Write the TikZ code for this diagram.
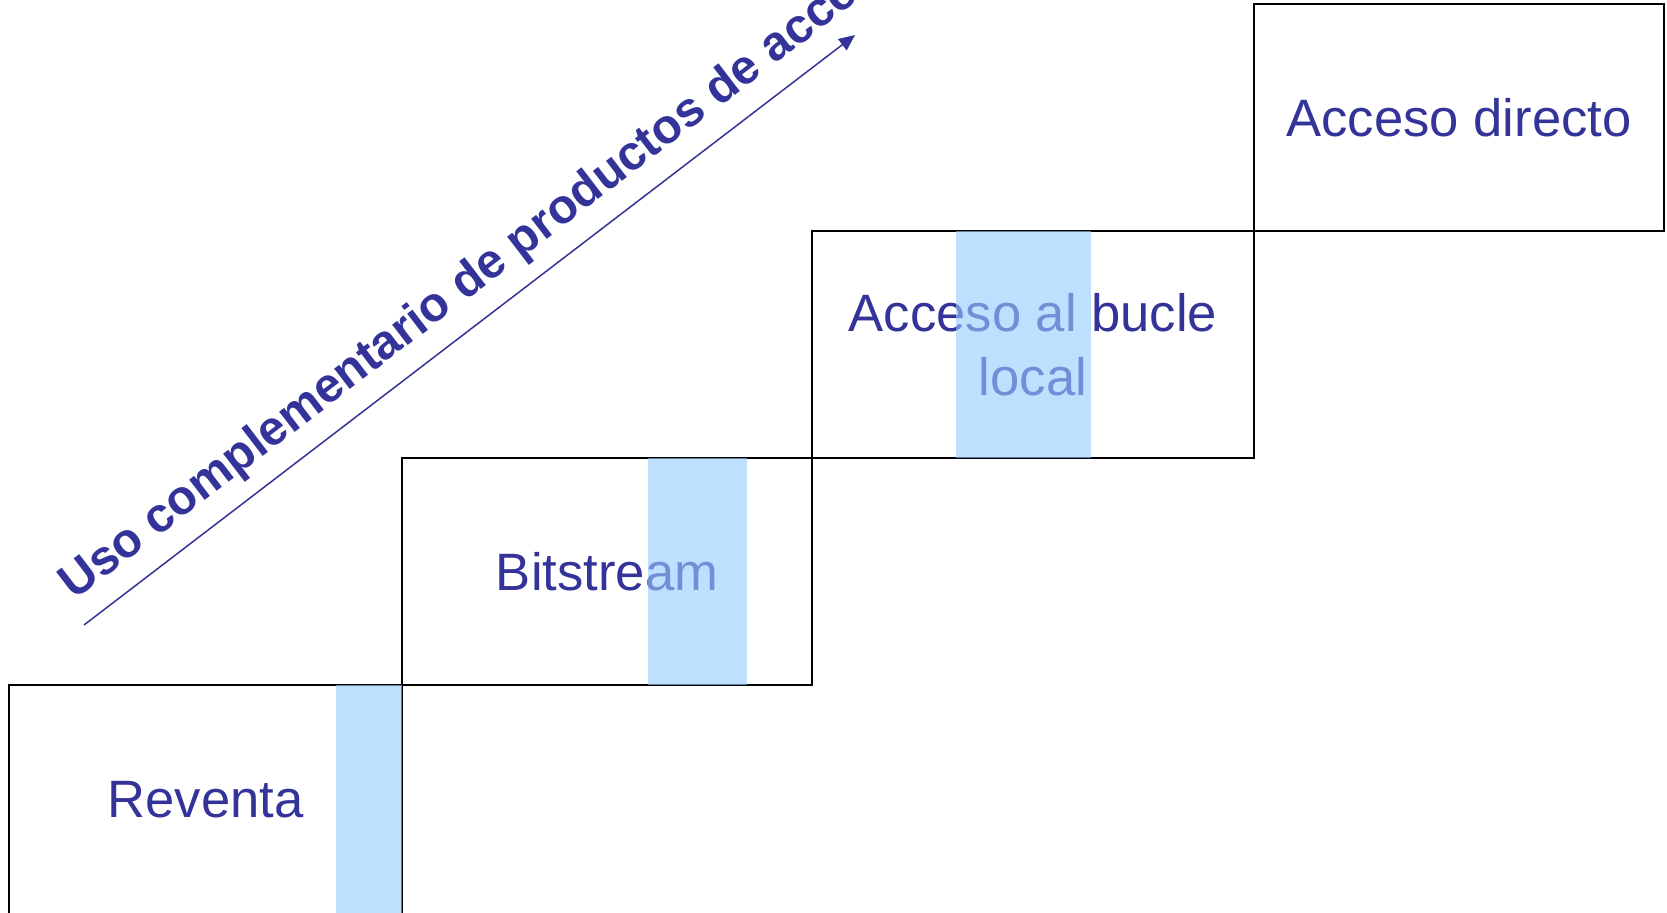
\documentclass[tikz,border=0pt]{standalone}
\usepackage{fontspec}
\setmainfont{Liberation Sans}
\usetikzlibrary{arrows.meta}
\definecolor{txtblue}{HTML}{333399}
\definecolor{hiblue}{RGB}{151,203,255}
\begin{document}
\begin{tikzpicture}[x=0.5pt,y=-0.5pt,
  stepbox/.style={draw=black, line width=0.75pt, inner sep=0pt, text=txtblue,
    font=\fontsize{26.3}{32}\selectfont, align=center},
  highlight/.style={fill=hiblue, fill opacity=0.61, draw=none},
  axislabel/.style={rotate=37.43, anchor=base west, inner sep=0pt, text=txtblue,
    font=\bfseries\fontsize{24.2}{28}\selectfont},
  axisarrow/.style={draw=txtblue, line width=0.75pt, -{Triangle[length=8pt,width=7pt]}}]
\useasboundingbox (0,0) rectangle (1667,912);
\clip (0,0) rectangle (1667,912);
\fill[white] (0,0) rectangle (1667,912);

% steps
\node[stepbox, minimum width=196.5pt, minimum height=114.5pt] (b1) at (205.5,799.5) {Reventa};
\node[stepbox, minimum width=205pt, minimum height=113.5pt] (b2) at (607,571.5) {Bitstream};
\node[stepbox, minimum width=221pt, minimum height=113.5pt] (b3) at (1033,344.5) {Acceso al bucle\\local};
\node[stepbox, minimum width=205pt, minimum height=113.5pt] (b4) at (1459,117.5) {Acceso directo};

% highlight bands
\fill[highlight] (336,685) rectangle (402,914);
\fill[highlight] (648,458) rectangle (747,685);
\fill[highlight] (956,231) rectangle (1091,458);

% axis arrow and label
\coordinate (arrS) at (84,625);
\coordinate (arrE) at (855,35);
\draw[axisarrow] (arrS) -- (arrE);
\node[axislabel] (lbl) at (74,601) {Uso complementario de productos de acceso};
\end{tikzpicture}
\end{document}
